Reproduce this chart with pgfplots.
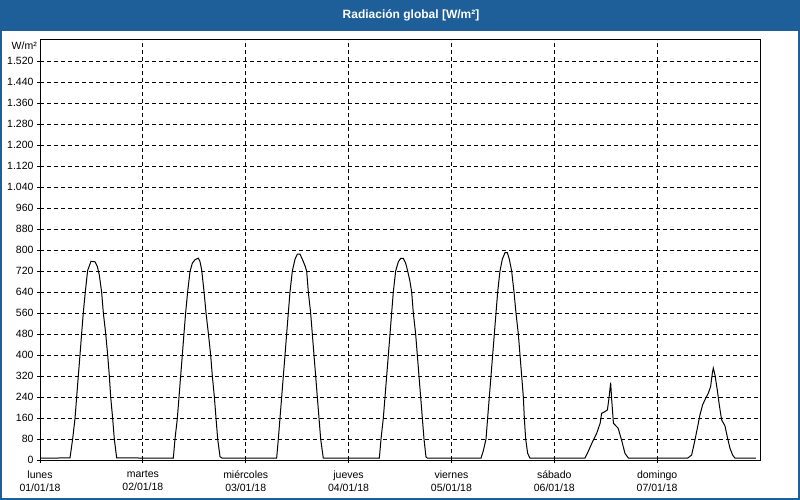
\documentclass[border=0pt]{standalone}
\usepackage{pgfplots}
\pgfplotsset{compat=1.18}
\usepackage{fontspec}
\setmainfont{Liberation Sans}
\definecolor{barblue}{RGB}{31,95,153}
\begin{document}
\begin{tikzpicture}
\fill[white] (0,0) rectangle (800bp,500bp);
\fill[barblue] (0,469bp) rectangle (800bp,500bp);
\draw[barblue, line width=2bp] (1bp,1bp) rectangle (799bp,499bp);
\node[text=white, font=\bfseries\fontsize{12bp}{14bp}\selectfont] at (411bp,484.5bp) {Radiación global [W/m²]};
\begin{axis}[
  at={(40bp,40bp)}, anchor=south west,
  scale only axis, width=720bp, height=420bp,
  xmin=0, xmax=168, ymin=0, ymax=1600,
  xtick={0,24,...,144},
  xticklabels={{lunes\\01/01/18},{martes\\02/01/18},{miércoles\\03/01/18},{jueves\\04/01/18},{viernes\\05/01/18},{sábado\\06/01/18},{domingo\\07/01/18}},
  ytick={0,80,...,1520},
  grid=major,
  major grid style={black, line width=0.8bp, dash pattern=on 4bp off 3bp},
  axis line style={black, line width=1bp},
  tick align=outside, major tick length=3bp, tick style={black, line width=0.8bp},
  xtick pos=left, ytick pos=left,
  /pgf/number format/assume math mode=true,
  /pgf/number format/1000 sep={.},
  ticklabel style={font=\fontsize{10.5bp}{14bp}\selectfont},
  x tick label style={align=center, yshift=-4bp, font=\fontsize{10.5bp}{13bp}\selectfont},
]
\addplot[black, line width=1bp] coordinates {
(0,7)
(7.0,8)(7.62,80)(8.17,159)(8.56,241)(8.94,320)(9.33,400)(9.72,483)(10.11,562)(10.58,642)(11.12,722)(11.9,757)(12.83,755)(13.38,737)(13.84,705)(14.39,638)(14.78,560)(15.32,483)(15.79,400)(16.18,320)(16.49,241)(16.95,159)(17.34,80)(17.89,8)
(31.11,7)(31.5,80)(32.05,159)(32.44,241)(32.82,320)(33.21,400)(33.6,483)(33.99,562)(34.46,642)(35.0,718)(35.55,750)(36.17,763)(36.95,769)(37.33,756)(37.72,725)(38.27,642)(38.73,562)(39.28,483)(39.82,400)(40.21,320)(40.68,241)(41.07,159)(41.46,80)(42.0,13)(42.5,7)
(55.22,7)(55.61,80)(56.0,160)(56.39,240)(56.78,320)(57.17,400)(57.55,480)(57.94,560)(58.33,640)(58.88,720)(59.5,765)(60.04,784)(60.66,784)(61.21,765)(61.83,740)(62.22,720)(62.61,640)(63.15,560)(63.54,480)(63.93,400)(64.32,320)(64.71,240)(65.1,160)(65.49,80)(66.1,7)
(79.18,7)(79.57,80)(80.11,160)(80.5,240)(80.89,320)(81.28,400)(81.67,480)(82.05,560)(82.44,640)(82.99,720)(83.61,755)(84.15,768)(84.78,768)(85.32,750)(85.79,720)(86.33,680)(86.72,640)(87.11,560)(87.65,480)(88.04,400)(88.43,320)(88.82,240)(89.21,160)(89.6,80)(90.06,12)(90.4,7)
(102.9,7)(103.44,35)(104.07,80)(104.45,160)(104.84,240)(105.23,320)(105.62,400)(106.01,480)(106.4,560)(106.79,640)(107.33,720)(107.88,765)(108.5,790)(109.04,790)(109.51,765)(110.05,720)(110.6,640)(111.06,560)(111.61,480)(112.0,400)(112.39,320)(112.78,240)(113.01,160)(113.32,80)(113.79,25)(114.33,7)
(127.16,7)(127.9,32)(129.1,76)(129.9,102)(130.7,140)(131.05,178)(131.8,184)(132.4,191)(132.8,241)(133.15,295)(133.4,229)(133.8,140)(134.9,121)(135.7,76)(136.5,25)(137.3,7)
(151.11,7)(152.05,19)(152.82,76)(153.45,127)(153.99,172)(154.61,210)(155.31,235)(155.93,254)(156.48,280)(156.87,330)(157.1,350)(157.49,324)(158.03,267)(158.5,210)(159.04,153)(159.82,130)(160.44,83)(160.99,45)(161.61,19)(162.16,7)(167.06,7)
};
\end{axis}
\node[anchor=east, font=\fontsize{10.5bp}{14bp}\selectfont, inner sep=0pt] at (37bp,454bp) {W/m²};
\pgfresetboundingbox
\path[use as bounding box] (0,0) rectangle (800bp,500bp);
\end{tikzpicture}
\end{document}
